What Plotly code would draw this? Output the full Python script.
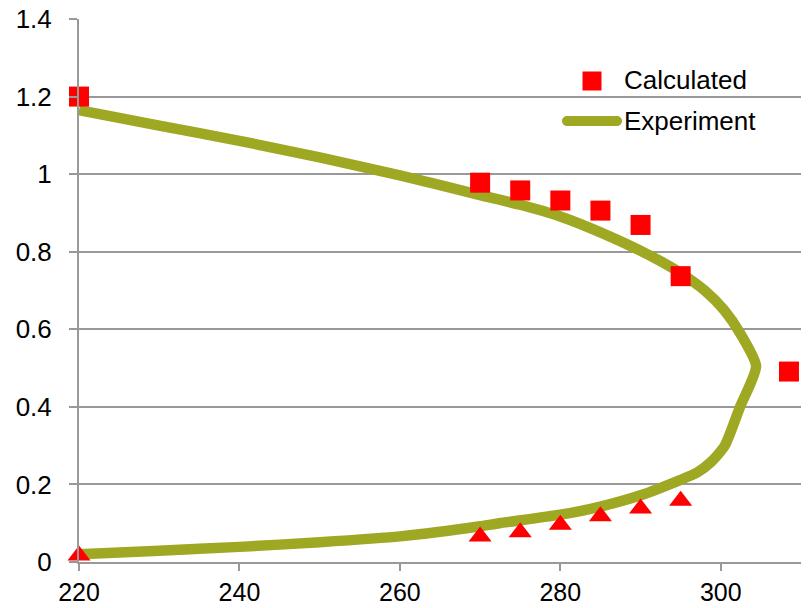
import plotly.graph_objects as go

# Experiment curve (x = temperature, y = fraction)
exp_x = [220, 230, 240, 250, 260, 270, 275, 280, 285, 291, 295, 298, 300.4, 302.4,
         304.4, 302.4, 300.5, 298.8, 297, 295, 290, 285, 280, 272.4, 270,
         260, 250, 240, 230, 220]
exp_y = [1.165, 1.125, 1.086, 1.043, 0.997, 0.946, 0.921, 0.891, 0.85, 0.792, 0.745, 0.70,
         0.65, 0.59, 0.505, 0.40, 0.30, 0.258, 0.23, 0.212, 0.172, 0.143, 0.122,
         0.10, 0.092, 0.066, 0.051, 0.039, 0.029, 0.02]

# Calculated - upper branch (squares)
calc_sq_x = [220, 270, 275, 280, 285, 290, 295, 308.5]
calc_sq_y = [1.2, 0.978, 0.958, 0.932, 0.906, 0.869, 0.737, 0.491]

# Calculated - lower branch (triangles)
calc_tri_x = [220, 270, 275, 280, 285, 290, 295]
calc_tri_y = [0.017, 0.066, 0.077, 0.096, 0.118, 0.138, 0.158]

x_ticks = [220, 240, 260, 280, 300]
y_ticks = [0, 0.2, 0.4, 0.6, 0.8, 1.0, 1.2, 1.4]
y_tick_text = ["0", "0.2", "0.4", "0.6", "0.8", "1", "1.2", "1.4"]

OLIVE = "#9FA823"
RED = "#FF0000"
GRID = "#999999"
FONT = "Liberation Sans, Arial, sans-serif"

fig = go.Figure()
fig.add_trace(go.Scatter(x=exp_x, y=exp_y, mode="lines", name="Experiment",
                         line=dict(color=OLIVE, width=10.5, shape="spline", smoothing=0.6),
                         showlegend=False))
fig.add_trace(go.Scatter(x=calc_tri_x, y=calc_tri_y, mode="markers", name="Calculated",
                         marker=dict(symbol="triangle-up", size=20, color=RED),
                         cliponaxis=False, showlegend=False))
fig.add_trace(go.Scatter(x=calc_sq_x, y=calc_sq_y, mode="markers", name="Calculated",
                         marker=dict(symbol="square", size=20, color=RED),
                         cliponaxis=False, showlegend=False))

L, R, T, B = 79, 7, 19, 46
W, H = 808, 608
pw, ph = W - L - R, H - T - B

def px(xp):
    return (xp - L) / pw

def py(yp):
    return (H - B - yp) / ph

# manual legend
fig.add_shape(type="rect", xref="paper", yref="paper", xsizemode="pixel", ysizemode="pixel",
              xanchor=px(592), yanchor=py(81), x0=-9.5, x1=9.5, y0=-9.5, y1=9.5,
              fillcolor=RED, line=dict(width=0))
fig.add_shape(type="path", xref="paper", yref="paper", xsizemode="pixel", ysizemode="pixel",
              xanchor=px(592), yanchor=py(121),
              path="M-25,-5 H25 C27.8,-5 30,-2.8 30,0 C30,2.8 27.8,5 25,5 H-25 "
                   "C-27.8,5 -30,2.8 -30,0 C-30,-2.8 -27.8,-5 -25,-5 Z",
              fillcolor=OLIVE, line=dict(width=0))
fig.add_annotation(text="Calculated", xref="paper", yref="paper", x=px(622), y=py(80),
                   xanchor="left", yanchor="middle", showarrow=False,
                   font=dict(family=FONT, size=26, color="black"))
fig.add_annotation(text="Experiment", xref="paper", yref="paper", x=px(622), y=py(121),
                   xanchor="left", yanchor="middle", showarrow=False,
                   font=dict(family=FONT, size=26, color="black"))

fig.update_layout(
    width=W, height=H,
    margin=dict(l=L, r=R, t=T, b=B, pad=0),
    paper_bgcolor="white", plot_bgcolor="white",
    font=dict(family=FONT, size=26, color="black"),
    showlegend=False,
    xaxis=dict(range=[220, 310], tickvals=x_ticks, showgrid=False, zeroline=False,
               showline=True, linecolor=GRID, linewidth=2, automargin=False,
               ticks="outside", ticklen=7, tickwidth=2, tickcolor=GRID,
               ticklabelstandoff=0, tickfont=dict(size=25)),
    yaxis=dict(range=[0, 1.4], tickvals=y_ticks, ticktext=y_tick_text,
               showgrid=True, gridcolor=GRID, gridwidth=2, zeroline=False,
               showline=True, linecolor=GRID, linewidth=2, automargin=False,
               ticks="outside", ticklen=8, tickwidth=2, tickcolor=GRID,
               ticklabelstandoff=12),
)

fig.write_html("out.html")
